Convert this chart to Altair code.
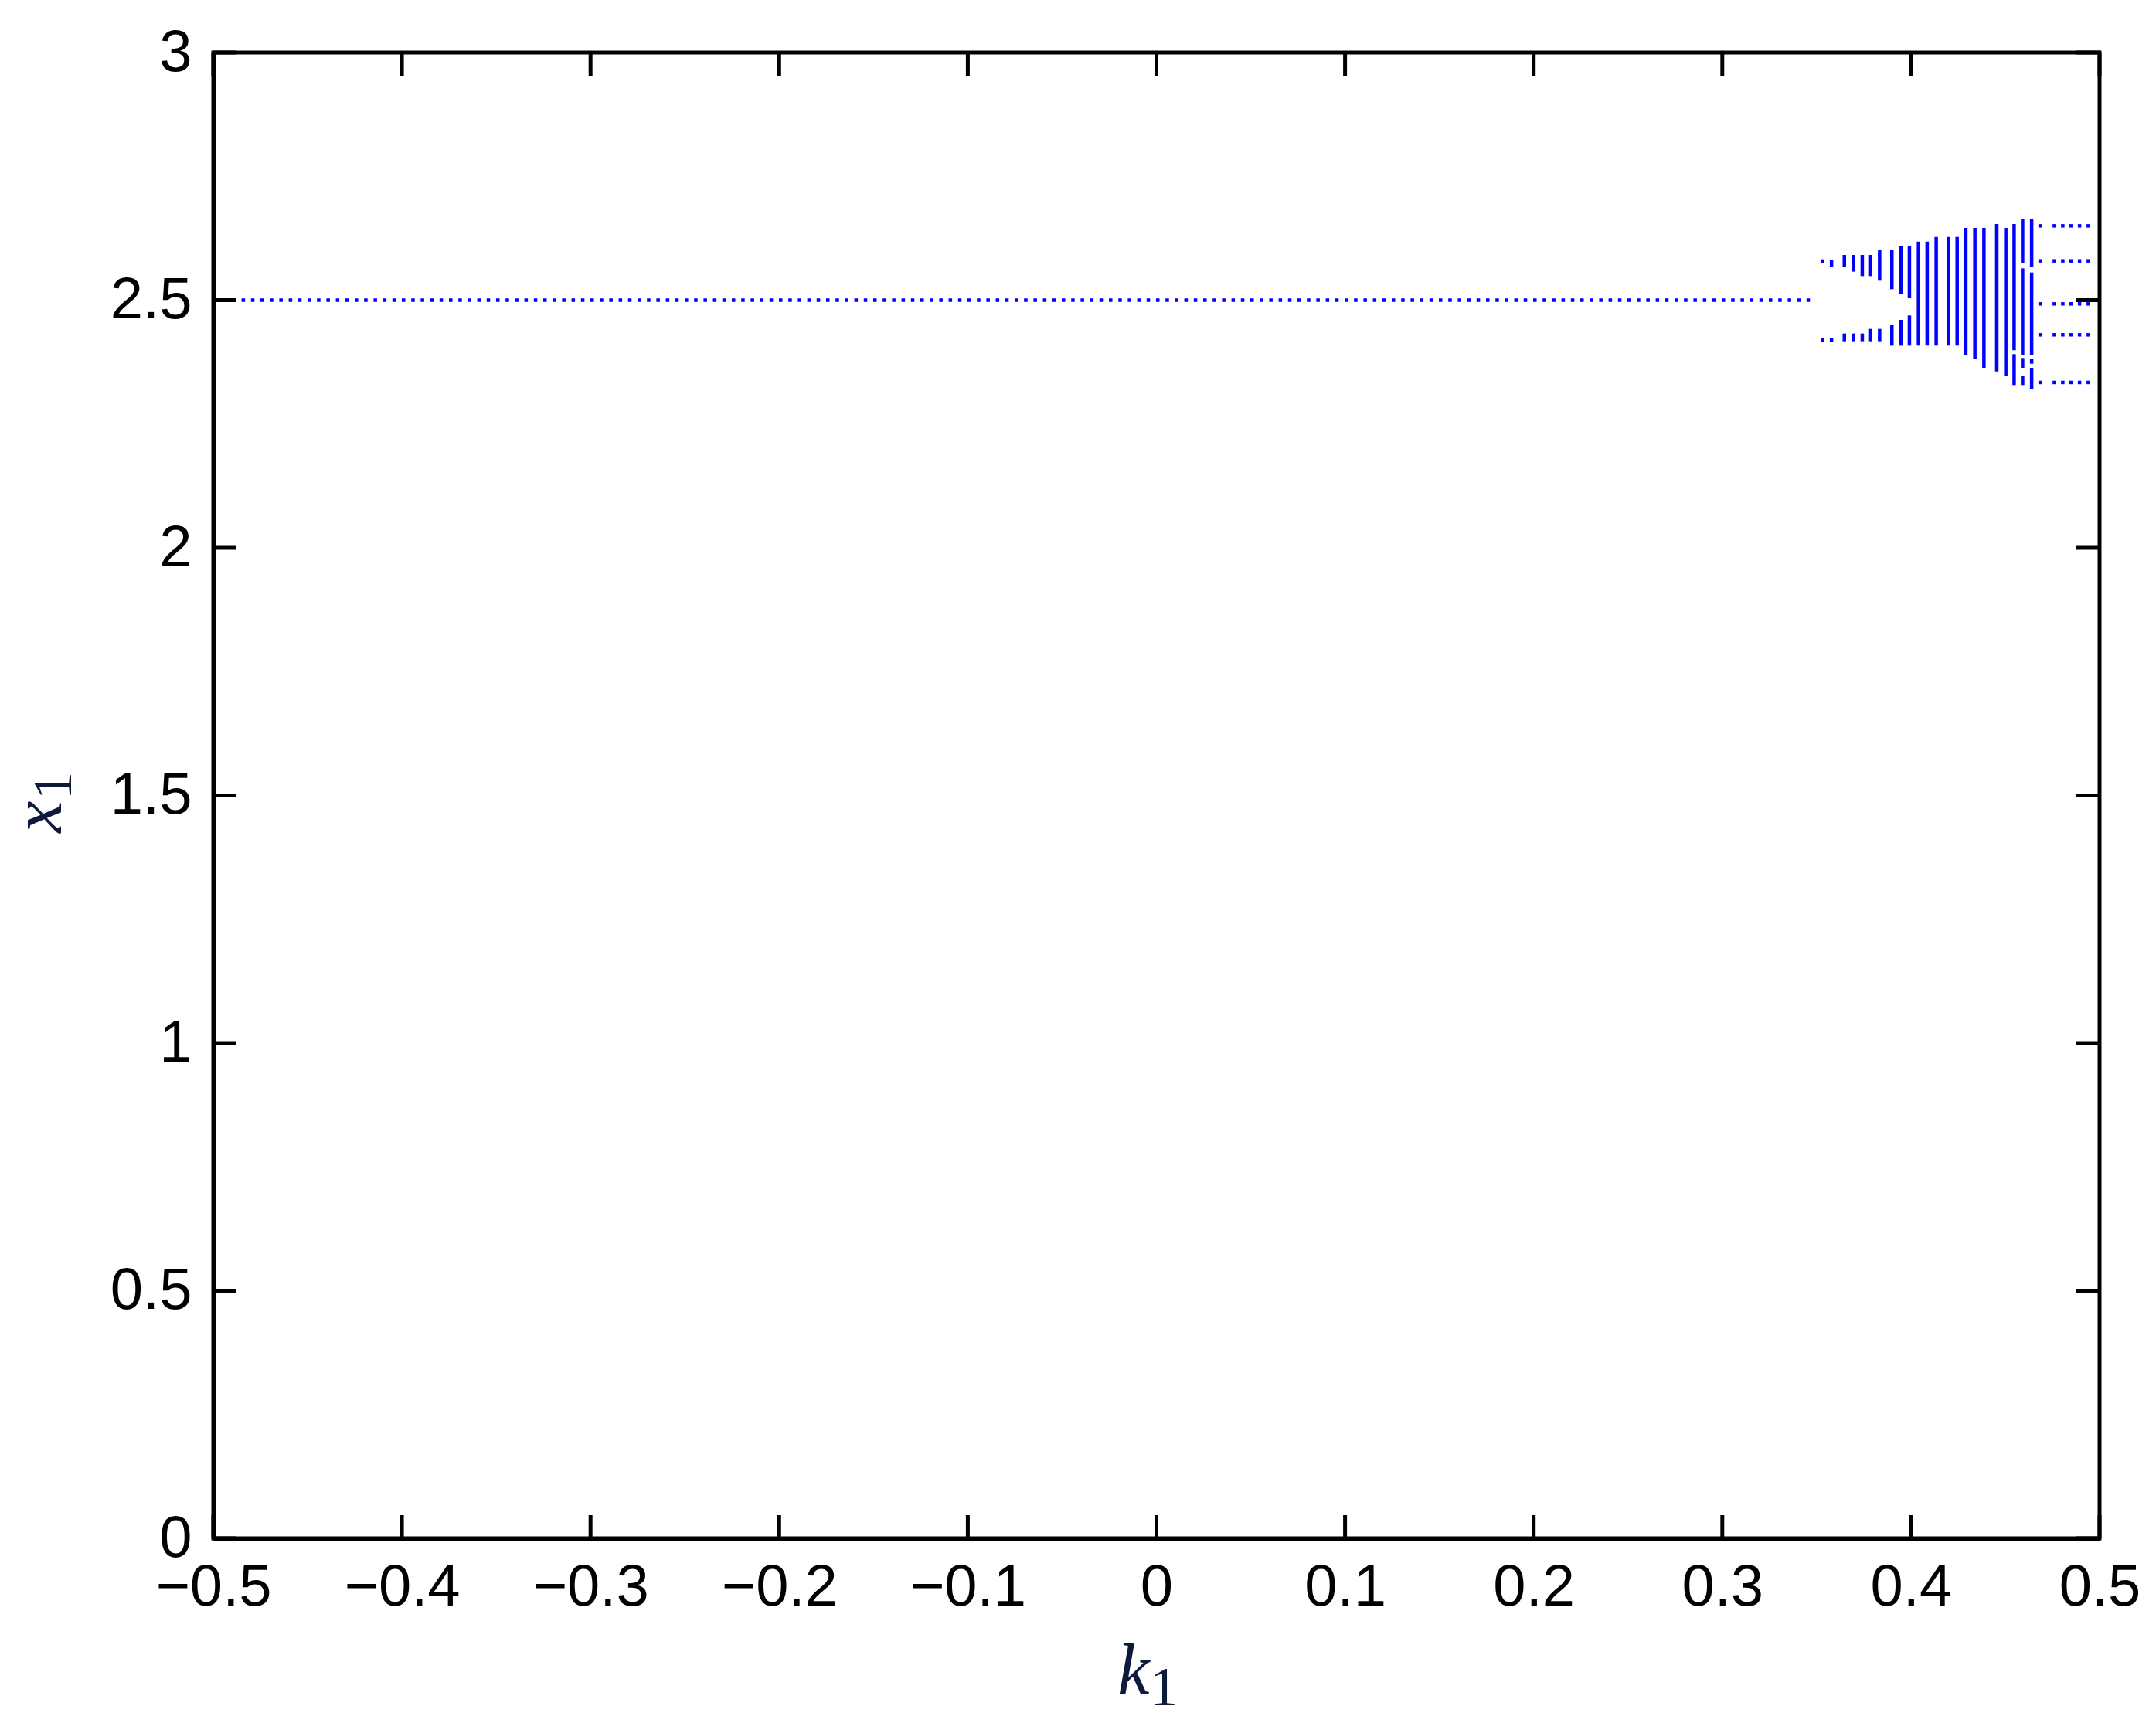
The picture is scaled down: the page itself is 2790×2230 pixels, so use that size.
import altair as alt
import pandas as pd

W, H = 2441, 1923

# flat branch x1 = 2.5 (dotted), k from -0.5 to ~0.349
flat_k = [-0.5, 0.3491]
flat_x1 = 2.5

# bifurcated / chaotic columns: one entry per vertical segment
seg_k = [0.3531, 0.3531, 0.3579, 0.3579, 0.3647, 0.3647, 0.3695, 0.3695,
         0.3742, 0.3742, 0.3783, 0.3783, 0.3834, 0.3834, 0.3899, 0.3899,
         0.3947, 0.3947, 0.3992, 0.3992, 0.4040, 0.4086, 0.4134, 0.4200,
         0.4245, 0.4291, 0.4339, 0.4387, 0.4455, 0.4503, 0.4547, 0.4547,
         0.4592, 0.4592, 0.4592, 0.4592, 0.4640, 0.4640, 0.4640, 0.4640]
seg_top = [2.5824, 2.4239, 2.5819, 2.4239, 2.5913, 2.4327, 2.5913, 2.4327,
           2.5913, 2.4327, 2.5913, 2.4420, 2.6006, 2.4420, 2.6006, 2.4509,
           2.6095, 2.4602, 2.6095, 2.4691, 2.6183, 2.6183, 2.6277, 2.6277,
           2.6277, 2.6459, 2.6459, 2.6459, 2.6537, 2.6459, 2.6537, 2.3911,
           2.6630, 2.5642, 2.3833, 2.3469, 2.6630, 2.5559, 2.3822, 2.3635]
seg_bottom = [2.5741, 2.4156, 2.5663, 2.4156, 2.5663, 2.4171, 2.5575, 2.4171,
              2.5486, 2.4171, 2.5486, 2.4171, 2.5393, 2.4171, 2.5221, 2.4082,
              2.5133, 2.4082, 2.5039, 2.4082, 2.4082, 2.4082, 2.4082, 2.4082,
              2.4082, 2.3895, 2.3822, 2.3635, 2.3562, 2.3469, 2.3989, 2.3287,
              2.5757, 2.3895, 2.3635, 2.3287, 2.5663, 2.3895, 2.3718, 2.3209]

# period-5 branch on the right
dot_k = [0.4685, 0.4760, 0.4805, 0.4849, 0.4894, 0.4940]
dot_levels = [2.6500, 2.5793, 2.4925, 2.4301, 2.3339]

x_ticks = [-0.5, -0.4, -0.3, -0.2, -0.1, 0.0, 0.1, 0.2, 0.3, 0.4, 0.5]
y_ticks = [0.0, 0.5, 1.0, 1.5, 2.0, 2.5, 3.0]

BLUE = "#0000ff"
TITLE_COLOR = "#0d1a3a"
LW = 5
TICK = 30

xs = alt.Scale(domain=[-0.5, 0.5], nice=False, zero=False)
ys = alt.Scale(domain=[0, 3], nice=False, zero=False)

flat_df = pd.DataFrame({"k": [flat_k[0]], "k2": [flat_k[1]], "x1": [flat_x1]})
seg_df = pd.DataFrame({"k": seg_k, "top": seg_top, "bottom": seg_bottom})
dot_df = pd.DataFrame([{"k": k, "x1": v} for v in dot_levels for k in dot_k])
xt_df = pd.DataFrame({"t": x_ticks})
yt_df = pd.DataFrame({"t": y_ticks})
one = pd.DataFrame({"o": [0]})

axis_common = dict(
    ticks=False, grid=False, domain=True, domainColor="black", domainWidth=LW,
    labelFont="Liberation Sans Narrow, Liberation Sans, Arial, sans-serif",
    labelFontSize=76, labelColor="black", format="~g", title=None,
    labelFlush=False, labelOverlap=False, labelBound=False,
)
AX = alt.Axis(values=x_ticks, labelPadding=26, **axis_common)
AY = alt.Axis(values=y_ticks, labelPadding=28, **axis_common)

flat = alt.Chart(flat_df).mark_rule(
    color=BLUE, strokeWidth=4.5, strokeDash=[4.5, 7.7], strokeCap="butt"
).encode(
    x=alt.X("k:Q", scale=xs, axis=AX),
    x2="k2:Q",
    y=alt.Y("x1:Q", scale=ys, axis=AY),
)

segs = alt.Chart(seg_df).mark_rule(color=BLUE, strokeWidth=4.5, strokeCap="butt").encode(
    x=alt.X("k:Q", scale=xs, axis=AX),
    y=alt.Y("top:Q", scale=ys, axis=AY),
    y2="bottom:Q",
)

dots = alt.Chart(dot_df).mark_square(color=BLUE, size=20, opacity=1).encode(
    x=alt.X("k:Q", scale=xs, axis=AX),
    y=alt.Y("x1:Q", scale=ys, axis=AY),
)

tick_style = dict(color="black", strokeWidth=LW, strokeCap="butt")
xt_bottom = alt.Chart(xt_df).mark_rule(**tick_style).encode(
    x=alt.X("t:Q", scale=xs, axis=AX), y=alt.value(H), y2=alt.value(H - TICK))
xt_top = alt.Chart(xt_df).mark_rule(**tick_style).encode(
    x=alt.X("t:Q", scale=xs, axis=AX), y=alt.value(0), y2=alt.value(TICK))
yt_left = alt.Chart(yt_df).mark_rule(**tick_style).encode(
    y=alt.Y("t:Q", scale=ys, axis=AY), x=alt.value(0), x2=alt.value(TICK))
yt_right = alt.Chart(yt_df).mark_rule(**tick_style).encode(
    y=alt.Y("t:Q", scale=ys, axis=AY), x=alt.value(W), x2=alt.value(W - TICK))

serif = "Liberation Serif, DejaVu Serif, serif"
k_main = alt.Chart(one).mark_text(
    text="k", font=serif, fontStyle="italic", fontSize=93, color=TITLE_COLOR,
    align="center", baseline="alphabetic"
).encode(x=alt.value(1191), y=alt.value(2124))
k_sub = alt.Chart(one).mark_text(
    text="1", font=serif, fontSize=72, color=TITLE_COLOR,
    align="center", baseline="alphabetic"
).encode(x=alt.value(1230), y=alt.value(2139))
x_main = alt.Chart(one).mark_text(
    text="x", font=serif, fontStyle="italic", fontSize=93, color=TITLE_COLOR,
    align="center", baseline="alphabetic", angle=270
).encode(x=alt.value(-197), y=alt.value(989))
x_sub = alt.Chart(one).mark_text(
    text="1", font=serif, fontSize=72, color=TITLE_COLOR,
    align="center", baseline="alphabetic", angle=270
).encode(x=alt.value(-184), y=alt.value(949))

chart = alt.layer(
    flat, segs, dots, xt_bottom, xt_top, yt_left, yt_right,
    k_main, k_sub, x_main, x_sub
).properties(
    width=W, height=H,
    background="white",
    autosize=alt.AutoSizeParams(type="none"),
    padding={"left": 268, "top": 60, "right": 65, "bottom": 231},
).configure_view(
    stroke="black", strokeWidth=LW
)

chart.save("out.html", embed_options={"renderer": "svg", "actions": False})
